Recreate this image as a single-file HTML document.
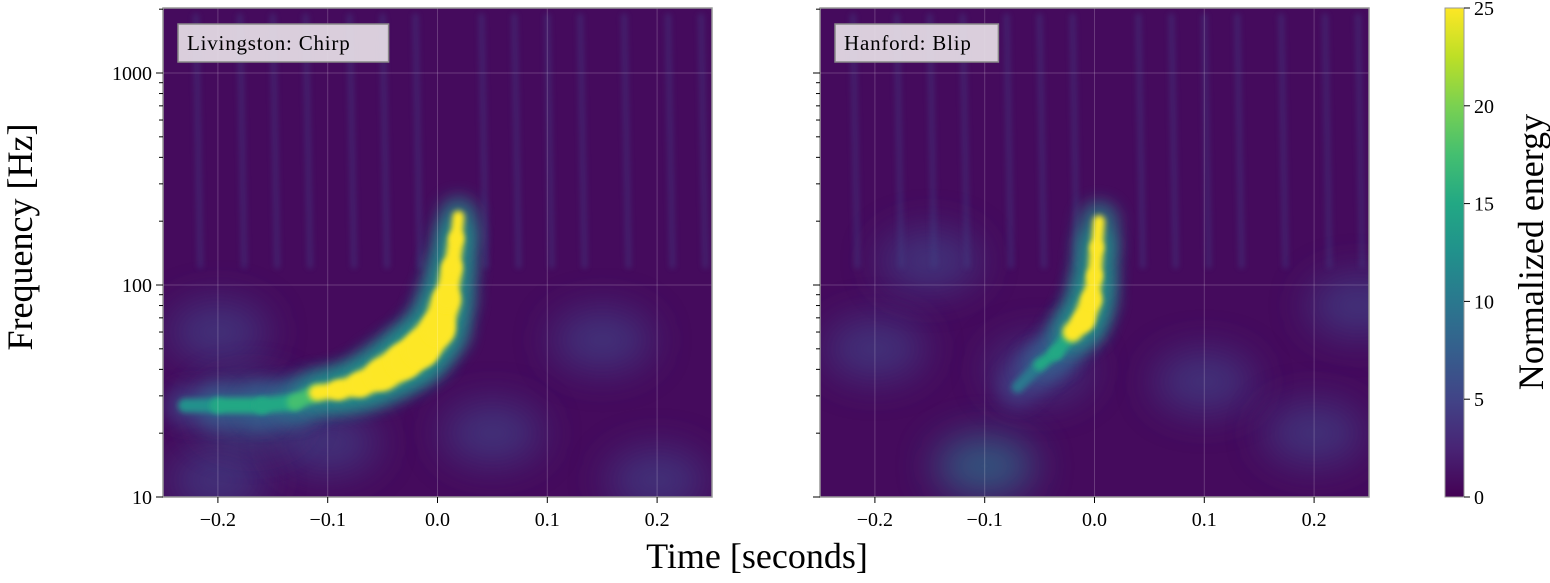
<!DOCTYPE html>
<html><head><meta charset="utf-8">
<style>
body{margin:0;background:#fff;width:1550px;height:578px;overflow:hidden;font-family:"Liberation Serif",serif;}
svg text{font-family:"Liberation Serif",serif;}
</style></head>
<body>
<svg id="chart" width="1550" height="578" xmlns="http://www.w3.org/2000/svg">
<defs>
<filter id="blur8" filterUnits="userSpaceOnUse" x="0" y="0" width="1550" height="578"><feGaussianBlur stdDeviation="8"/></filter>
<filter id="blur3" filterUnits="userSpaceOnUse" x="0" y="0" width="1550" height="578"><feGaussianBlur stdDeviation="3"/></filter>
<filter id="blur20" filterUnits="userSpaceOnUse" x="0" y="0" width="1550" height="578"><feGaussianBlur stdDeviation="20"/></filter>
<linearGradient id="viridis" x1="0" y1="1" x2="0" y2="0">
<stop offset="0" stop-color="#440154"/><stop offset="0.1" stop-color="#482475"/><stop offset="0.2" stop-color="#414487"/>
<stop offset="0.3" stop-color="#355f8d"/><stop offset="0.4" stop-color="#2a788e"/><stop offset="0.5" stop-color="#21918c"/>
<stop offset="0.6" stop-color="#22a884"/><stop offset="0.7" stop-color="#44bf70"/><stop offset="0.8" stop-color="#7ad151"/>
<stop offset="0.9" stop-color="#bddf26"/><stop offset="1" stop-color="#fde725"/></linearGradient>
<clipPath id="clipL"><rect x="163" y="8" width="549" height="489"/></clipPath>
<clipPath id="clipR"><rect x="820" y="8" width="549" height="489"/></clipPath>
</defs>
</svg>
<script>
// data
const timeTicks=[-0.2,-0.1,0.0,0.1,0.2];
const timeTickLabels=["\u22120.2","\u22120.1","0.0","0.1","0.2"];
const freqTicks=[10,100,1000];
const cbTicks=[0,5,10,15,20,25];
// Livingston chirp track: time, frequency, energy, core width(px)
const chirpT=[-0.23,-0.2,-0.16,-0.13,-0.11,-0.09,-0.07,-0.05,-0.03,-0.015,0.0,0.008,0.013,0.017,0.019];
const chirpF=[27,27,27,28,31,32,34,38,44,50,62,85,120,165,210];
const chirpE=[12,15,16,18,25,25,25,25,25,25,25,25,25,25,22];
const chirpW=[14,16,16,16,16,20,26,34,36,36,30,22,16,12,8];
// Hanford blip track
const blipT=[-0.07,-0.05,-0.035,-0.02,-0.01,-0.003,0.0,0.002,0.004];
const blipF=[33,42,48,60,68,85,110,150,200];
const blipE=[10,15,16,25,25,25,25,25,23];
const blipW=[12,12,14,20,22,16,14,12,8];
// broad background patches (time, freq, energy)
const bgLT=[-0.2,-0.1,0.05,0.2,-0.2,0.15,-0.17];const bgLF=[12,18,20,12,60,55,25];const bgLE=[6,4,4,6,5,5,8];
const bgRT=[-0.1,-0.05,0.1,0.2,-0.2,0.24,-0.15];const bgRF=[14,40,35,20,50,80,130];const bgRE=[9,5,4,4,4,6,5];
const streakT=[-0.22,-0.18,-0.15,-0.12,-0.08,-0.05,-0.02,0.04,0.07,0.1,0.13,0.17,0.21,0.24];
const streakE=[4,6,4,5,4,6,4,5,4,6,4,5,6,4];

const S=document.getElementById('chart'),NS="http://www.w3.org/2000/svg";
function mk(t,a,p){const e=document.createElementNS(NS,t);for(const k in a)e.setAttribute(k,a[k]);(p||S).appendChild(e);return e;}
const Y0=497,DEC=212;
function fy(f){return Y0-Math.log10(f/10)*DEC;}
function cbY(v){return 497-v/25*489;}
const vir=["#440154","#482475","#414487","#355f8d","#2a788e","#21918c","#22a884","#44bf70","#7ad151","#bddf26","#fde725"];
function col(v){let i=Math.max(0,Math.min(10,Math.round(v/2.5)));return vir[i];}

function panel(x0,name,label,bgT,bgF,bgE,trT,trF,trE,trW,clip){
  const tx=t=>x0+(t+0.25)/0.5*549;
  const g=mk('g',{'clip-path':'url(#'+clip+')'});
  
  
  mk('rect',{x:x0,y:8,width:549,height:489,fill:'#450b5d'},g);
  for(let i=0;i<bgT.length;i++){
    const e=mk('ellipse',{cx:tx(bgT[i]),cy:fy(bgF[i]),rx:50,ry:30,fill:col(bgE[i]),opacity:0.7,filter:'url(#blur20)'},g);
    
    
  }
  for(let i=0;i<streakT.length;i++){
    const e=mk('line',{x1:tx(streakT[i]),x2:tx(streakT[i]+0.004),y1:fy(1900),y2:fy(120),stroke:col(streakE[i]),'stroke-width':5,opacity:0.45,filter:'url(#blur3)'},g);
    
    
  }
  for(let i=0;i<trT.length-1;i++){
    const a=mk('line',{x1:tx(trT[i]),y1:fy(trF[i]),x2:tx(trT[i+1]),y2:fy(trF[i+1]),stroke:col(trE[i]*0.5),'stroke-width':trW[i]+28,'stroke-linecap':'round',opacity:0.65,filter:'url(#blur8)'},g);
    
    
  }
  for(let i=0;i<trT.length-1;i++){
    const a=mk('line',{x1:tx(trT[i]),y1:fy(trF[i]),x2:tx(trT[i+1]),y2:fy(trF[i+1]),stroke:col(trE[i]),'stroke-width':trW[i],'stroke-linecap':'round',filter:'url(#blur3)'},g);
    
    
  }
  timeTicks.forEach(t=>mk('line',{x1:tx(t),x2:tx(t),y1:8,y2:497,stroke:'#fff','stroke-opacity':0.2,'stroke-width':1},g));
  freqTicks.forEach(f=>mk('line',{x1:x0,x2:x0+549,y1:fy(f),y2:fy(f),stroke:'#fff','stroke-opacity':0.2,'stroke-width':1},g));
  const fr=mk('rect',{x:x0,y:8,width:549,height:489,fill:'none',stroke:'#999','stroke-width':1.5});
  
  
  timeTicks.forEach((t,i)=>{
    mk('line',{x1:tx(t),x2:tx(t),y1:497,y2:503,stroke:'#000','stroke-width':1});
    const tl=mk('text',{x:tx(t),y:526,'text-anchor':'middle','font-size':20});
    tl.textContent=timeTickLabels[i];
    
    
  });
  for(let d=10;d<2000;d*=10)for(let m=1;m<10;m++){const f=d*m;if(f>2028)break;
    mk('line',{x1:x0-(m==1?7:4),x2:x0,y1:fy(f),y2:fy(f),stroke:'#000','stroke-width':1});}
  const lb=mk('g',{});
  
  
  const w=label.length*11.8+10;
  mk('rect',{x:x0+15,y:24,width:w,height:38,fill:'#eae3ea','fill-opacity':0.9,stroke:'#888','stroke-width':1.5},lb);
  const t=mk('text',{x:x0+24,y:50,'font-size':21,'letter-spacing':0.8},lb);t.textContent=label;
}
panel(163,'livingston-panel','Livingston: Chirp',bgLT,bgLF,bgLE,chirpT,chirpF,chirpE,chirpW,'clipL');
panel(820,'hanford-panel','Hanford: Blip',bgRT,bgRF,bgRE,blipT,blipF,blipE,blipW,'clipR');
freqTicks.forEach(f=>{const t=mk('text',{x:152,y:fy(f)+7,'text-anchor':'end','font-size':20});t.textContent=f;
  
  });
const cb=mk('rect',{x:1445,y:8,width:19,height:489,fill:'url(#viridis)',stroke:'#999','stroke-width':1});


cbTicks.forEach(v=>{mk('line',{x1:1464,x2:1470,y1:cbY(v),y2:cbY(v),stroke:'#000'});
  const t=mk('text',{x:1474,y:cbY(v)+7,'font-size':20});t.textContent=v;
  
  });
let t=mk('text',{x:757,y:568,'text-anchor':'middle','font-size':36});t.textContent='Time [seconds]';


t=mk('text',{x:0,y:0,'text-anchor':'middle','font-size':36,transform:'translate(32,237) rotate(-90)'});t.textContent='Frequency [Hz]';


t=mk('text',{x:0,y:0,'text-anchor':'middle','font-size':36,transform:'translate(1543,252) rotate(-90)'});t.textContent='Normalized energy';


</script>
</body></html>
